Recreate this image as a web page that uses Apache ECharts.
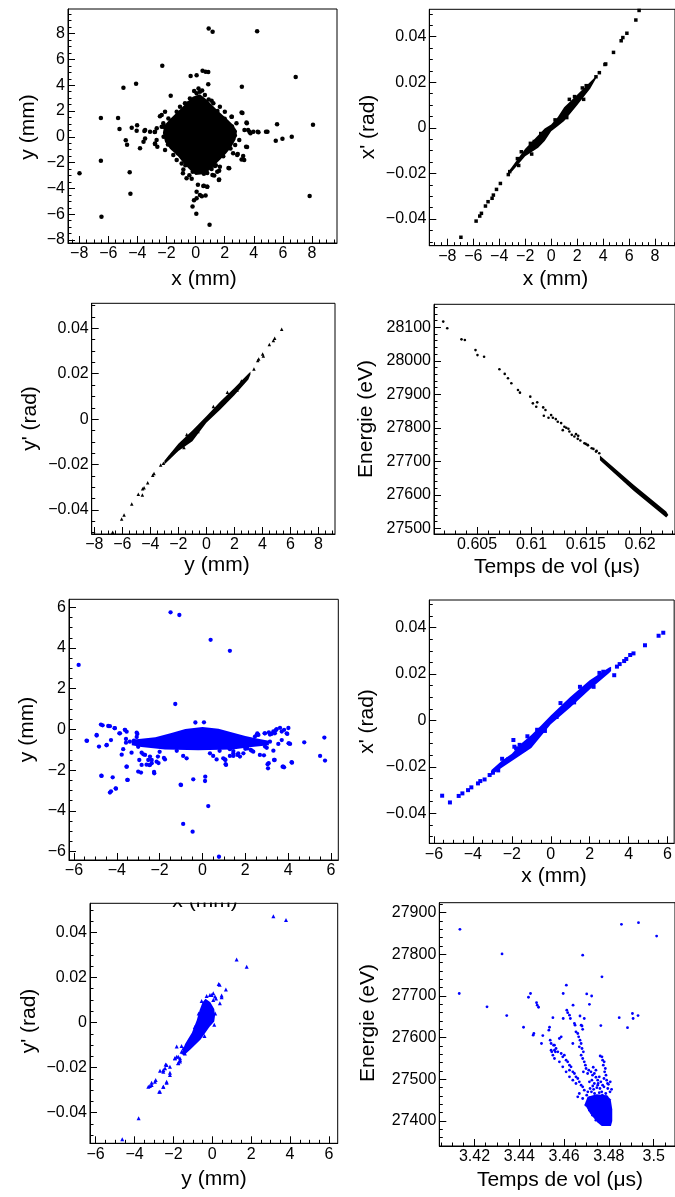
<!DOCTYPE html>
<html><head><meta charset="utf-8">
<script src="https://cdn.jsdelivr.net/npm/echarts@6.0.0/dist/echarts.min.js"></script>
<style>html,body{margin:0;padding:0;background:#fff}#c{width:675px;height:1197px}</style>
</head><body><div id="c"></div>
<script>
// ---------------- tick labels ----------------
const mmTicks8 = [-8,-6,-4,-2,0,2,4,6,8];
const mmTicks6 = [-6,-4,-2,0,2,4,6];
const radTicks = [-0.04,-0.02,0,0.02,0.04];
const tofTicksA = [0.605,0.61,0.615,0.62];
const eTicksA = [27500,27600,27700,27800,27900,28000,28100];
const tofTicksB = [3.42,3.44,3.46,3.48,3.5];
const eTicksB = [27400,27500,27600,27700,27800,27900];

// ---------------- panel 1 : x vs y (black) ----------------
const p1Pts = [[0.9,8.4],[1.17,8.15],[4.23,8.18],[-2.29,5.52],[0.48,5.13],[0.69,5.05],[0.87,5.03],[-0.34,4.72],[0.07,4.77],[-4.09,4.12],[6.88,4.64],[-4.96,3.81],[0.87,4.07],[3.18,3.89],[-1.71,3.19],[-6.51,1.46],[-5.33,1.46],[-5.23,0.61],[-4.39,0.71],[-4.02,0.89],[-4.05,0.48],[-4.8,-0.27],[-4.71,-0.61],[-3.82,-0.89],[-3.52,0.45],[-6.51,-1.85],[-7.98,-2.83],[-4.53,-2.75],[-4.48,-4.41],[-6.47,-6.19],[-0.21,-5.41],[-0.11,-4.92],[0.05,-5.96],[0.96,-6.82],[0.16,-3.71],[0.57,-3.79],[0.07,-4.25],[0.43,-4.61],[0.8,-3.86],[0.69,-4.54],[7.84,-4.59],[8.07,0.94],[5.6,0.97],[4.94,0.4],[4.32,0.35],[5.51,-0.3],[5.97,-0.14],[6.61,0.01],[3.61,0.53],[3.5,1.12],[3.77,0.27],[3.22,1.85],[2.49,1.56],[2.26,-2.42],[1.62,-2.62],[1.39,-2.21],[1.6,-3.35],[1.28,-3.0],[3.27,-1.49],[3.34,-1.8],[3.54,-0.79],[2.9,-1.33],[-2.45,1.59],[-2.22,0.79],[-2.67,0.66],[-2.79,-0.56],[-2.81,0.38],[-2.63,-0.76],[-2.1,-1.02],[-0.87,-2.83],[-0.62,-3.22],
[-3.47,0.53],[-3.13,0.4],[-2.79,0.4],[-3.47,-0.12],[-3.58,-0.38],[-2.79,-0.51],[-2.68,-0.25],[-2.22,1.05],[-2.33,0.79],[-1.53,-1.41],[-1.3,-1.8],[-0.96,-2.07],[-0.84,-2.54],[-0.43,-2.98],[-0.27,-3.24],[0.18,-2.4],[0.57,-2.86],[0.8,-2.8],[1.33,-2.26],[1.67,-2.32],[1.49,-2.71],[1.62,-3.3],[1.16,-2.96],[2.31,-2.44],[2.58,-1.28],[2.86,-1.41],[3.16,-1.75],[2.08,-0.77],[2.31,-0.38],[2.72,-0.64],[3.0,-0.25],[3.47,-0.77],[3.52,1.05],[3.36,0.53],[3.7,0.4],[3.97,0.4],[4.27,0.4],[4.84,0.4],[3.16,1.89],[2.47,1.55],[2.81,1.05],[1.67,2.34],[2.01,1.95],[1.1,2.8],[1.22,2.6],[0.64,3.24],[0.3,3.5],[0.07,3.37],[-0.39,2.98],[-0.73,2.6],[-1.07,2.34],[-1.3,1.95],[-1.87,1.43],[-2.33,1.69],[-2.1,1.95],[0.53,-3.81],[0.8,-3.87],[0.3,-4.51],[0.07,-4.77],[0.2,3.75],[0.45,3.6],[-0.1,3.55],
[-2.0,0.2],[-1.9,-0.6],[-1.6,1.2],[-1.0,1.9],[-0.5,2.6],[1.5,2.0],[2.0,1.4],[2.5,0.8],[2.7,0.1],[2.4,-0.9],[1.9,-1.5],[1.1,-2.5],[-0.2,-2.7],[-0.7,-2.2],[-1.2,-1.3],[-2.2,0.0],[0.9,2.9],[-0.6,-1.8]];
// outline of the dense (saturated) core of panel 1
const p1Core = [[0.3,3.3],[0.75,2.9],[1.2,2.4],[1.7,1.85],[2.2,1.35],[2.55,0.95],[2.85,0.45],[2.75,-0.2],[2.45,-0.8],[2.1,-1.3],[1.7,-1.75],[1.35,-2.15],[0.95,-2.6],[0.5,-2.9],[0.0,-2.95],[-0.45,-2.5],[-0.85,-2.0],[-1.25,-1.45],[-1.75,-0.95],[-2.1,-0.4],[-2.25,0.3],[-2.15,0.9],[-1.7,1.45],[-1.15,2.05],[-0.65,2.6],[-0.2,3.1]];

// ---------------- panel 2 : x vs x' (black) ----------------
const p2Pts = [[6.77,0.0515],[6.52,0.0473],[5.83,0.0415],[5.52,0.0396],[5.39,0.0382],[4.8,0.0331],[4.14,0.0278],[4.2,0.028],[3.71,0.0242],[3.45,0.0224],[-3.19,-0.0192],[-3.3,-0.0205],[-3.91,-0.0244],[-4.21,-0.027],[-4.45,-0.0295],[-4.55,-0.0309],[-4.86,-0.0324],[-5.06,-0.0343],[-5.37,-0.0375],[-5.5,-0.0387],[-5.78,-0.0409],[-6.95,-0.048],
[-2.6,-0.0135],[-2.3,-0.0105],[-1.6,-0.0068],[-1.3,-0.006],[-0.8,-0.0025],[0.3,0.0035],[1.4,0.0125],[1.8,0.0137],[2.4,0.0175],[2.7,0.0185],[1.2,0.0045],[2.5,0.0125],[-1.5,-0.0115],[-2.5,-0.0165]];
const p2Core = [[-3.2,-0.0185],[-3,-0.017],[-2,-0.0092],[-1,-0.0033],[-0.5,-0.0003],[0,0.0015],[0.5,0.0047],[1,0.009],[2,0.0145],[3,0.0201],[3.45,0.0226],[3.45,0.0216],[3,0.0171],[2,0.0099],[1,0.003],[0.5,0.0007],[0,-0.0015],[-0.5,-0.0058],[-1,-0.0087],[-2,-0.0125],[-3,-0.019],[-3.2,-0.0198]];

// ---------------- panel 3 : y vs y' (black) ----------------
const p3Pts = [[5.38,0.0396],[4.88,0.0356],[4.79,0.0346],[4.5,0.0329],[4.02,0.0287],[4.07,0.0278],[3.74,0.0265],[3.67,0.0258],[3.4,0.0221],[-3.07,-0.0194],[-3.26,-0.0202],[-3.74,-0.024],[-3.83,-0.0247],[-4.19,-0.028],[-4.45,-0.0302],[-4.55,-0.0307],[-4.57,-0.0334],[-4.86,-0.0331],[-5.33,-0.0374],[-5.88,-0.0422],[-6.05,-0.044],[-6.69,-0.0498],
[-2.5,-0.0155],[-1.6,-0.0125],[-1.4,-0.0068],[-0.6,-0.0055],[0.5,0.0055],[1.5,0.0118],[2.5,0.0168],[2.2,0.0128],[-2.2,-0.0135],[-2.7,-0.0168]];
const p3Core = [[-3,-0.0183],[-2,-0.0108],[-1,-0.005],[0,0.0013],[1,0.0078],[2,0.0137],[3,0.02],[3.15,0.0208],[3.15,0.0196],[3,0.0174],[2,0.0105],[1,0.0042],[0,-0.0016],[-1,-0.0097],[-2,-0.0141],[-3,-0.02]];

// ---------------- panel 4 : time of flight vs energy (black) ----------------
const p4Pts = [[0.60188,28117],[0.60225,28097],[0.60356,28064],[0.60387,28062],[0.60485,28032],[0.60503,28017],[0.60564,28012],[0.60705,27975],[0.60754,27961],[0.60784,27948],[0.60815,27933],[0.60876,27913],[0.60894,27905],[0.60989,27893],[0.61013,27873],[0.61053,27876],[0.61108,27861],[0.61129,27853],[0.61044,27863],[0.61114,27836],[0.61181,27838],[0.61197,27830],[0.61157,27830],[0.61224,27826],[0.61242,27818],[0.61273,27814],[0.61303,27803],[0.61288,27793],[0.61349,27789],[0.61371,27779],[0.61395,27774],[0.61426,27767],[0.6145,27762],[0.61487,27754],[0.61517,27749],[0.61554,27739],[0.61594,27729],[0.61624,27724],[0.6132,27800],[0.6134,27797],[0.6141,27781],[0.6143,27776],[0.615,27752],[0.6152,27748],[0.6157,27737],[0.616,27731]];
const p4Core = [[0.6163,27717],[0.6194,27630],[0.6224,27550],[0.6226,27540],[0.6224,27532],[0.6194,27612],[0.6163,27703]];

// ---------------- panel 5 : x vs y (blue) ----------------
const p5Pts = [[-1.49,5.75],[-1.08,5.62],[0.38,4.4],[1.28,3.86],[-5.78,3.17],[-1.27,1.25],[-0.33,0.34],[0.07,0.35],[-4.74,0.24],[-4.66,0.2],[-4.32,0.16],[-4.1,0.06],[-4.94,-0.3],[-5.39,-0.56],[-4.83,-0.84],[-4.48,-0.78],[-4.27,-0.52],[-3.88,-0.19],[-3.62,-0.02],[-3.57,-0.47],[-3.57,-0.65],[-3.77,-1.24],[-3.7,-0.97],[-4.72,-2.27],[-4.19,-2.35],[-4.04,-2.91],[-4.32,-3.1],[-4.27,-3.04],[-3.54,-1.83],[-3.51,-2.48],[-3.31,-1.14],[-3.04,-0.22],[-3.07,-0.37],[-2.95,-1.5],[-2.87,-2.12],[-2.76,-1.22],[-2.61,-1.73],[-2.48,-1.75],[-2.45,-1.33],[-2.37,-1.5],[-2.26,-2.09],[-2.08,-1.33],[-2.05,-1.65],[-1.8,-1.4],[-1.02,-2.71],[-0.9,-4.64],[-0.46,-5.02],[-0.43,-2.45],[0.13,-2.32],[0.12,-2.53],[0.27,-3.76],[0.77,-6.25],[1.08,-1.71],[0.97,-1.42],[1.07,-1.5],[1.28,-1.3],[1.44,-1.17],[1.63,-1.25],[1.75,-1.33],[1.91,-1.17],[2.09,-0.93],[2.25,-1.01],[1.28,-0.97],[1.44,-1.06],[2.37,-1.09],[2.68,-1.25],[2.45,-0.35],[2.53,-0.27],[2.56,-0.2],[2.9,-0.19],[2.87,-1.27],[3.09,-1.66],[3.06,-1.91],[3.15,-0.25],[3.38,-0.19],[3.46,0.01],[3.7,-0.1],[3.81,-0.02],[4.01,0.07],[3.96,-0.22],[4.02,-0.68],[4.09,-0.71],[3.31,-1.04],[3.37,-1.5],[3.74,-1.83],[3.81,-1.86],[4.18,-1.63],[4.75,-0.63],[5.49,-1.3],[5.72,-1.53],[5.69,-0.4],
[-2.84,-1.14],[-2.68,-1.25],[-2.53,-1.5],[-2.37,-1.66],[-2.14,-1.58],[-1.75,-1.47],[-0.9,-1.3],[-0.74,-1.42],[0.35,-1.17],[0.5,-1.3],[0.66,-1.47],[1.05,-1.47],[1.44,-1.3],[1.67,-1.17],[2.3,-1.04],[2.92,-0.84],[3.54,-0.71],[3.7,-0.52],[3.93,-0.19],[3.23,-0.22],[2.61,-0.27],[2.92,-0.19],[-3.07,-0.16],[-3.54,-0.11],[-3.39,-0.6],[-4.09,0.06],[-3.85,-0.19],[-3.62,-0.02],[-4.4,0.17],[-4.94,-0.27],[-5.41,-0.55],[-4.47,-0.76],[-3.0,-2.07],[-2.84,-1.74],[-2.45,-1.74],[-2.25,-2.15],[-3.54,-1.83],[-3.49,-2.48],[-4.71,-2.28],[-4.05,-2.89],[-1.0,-2.73],[1.1,-1.74],[3.04,-1.71],[3.34,-1.5],[3.77,-1.83],[4.16,-1.61],[2.58,-0.24],[3.1,-0.14],[3.31,-0.09],[3.42,-0.04],[3.62,0.08],[4.04,-0.68],[-3.2,-0.55],[-3.0,-0.85],[3.15,-0.6],[3.0,-0.9],[-1.2,-1.05],[0.8,-1.05],[-2.0,-1.1],[2.0,-0.95]];
const p5Core = [[-3.3,-0.5],[-2.2,-0.38],[-1.45,-0.17],[-0.8,0.02],[0.0,0.12],[0.75,0.03],[1.35,-0.14],[2.0,-0.32],[2.6,-0.46],[3.1,-0.55],[3.1,-0.78],[2.3,-0.86],[1.4,-0.98],[-0.2,-1.02],[-1.75,-0.98],[-2.85,-0.86],[-3.3,-0.78]];

// ---------------- panel 6 : x vs x' (blue) ----------------
const p6Pts = [[5.78,0.0378],[5.54,0.0365],[4.84,0.0324],[4.25,0.0289],[4.08,0.0282],[3.88,0.0265],[3.77,0.0256],[3.54,0.0243],[3.4,0.0232],[3.26,0.0195],[-5.58,-0.0324],[-5.18,-0.0353],[-4.73,-0.0325],[-4.54,-0.0314],[-4.25,-0.03],[-4.08,-0.0288],[-3.74,-0.0271],[-3.62,-0.0261],[-3.4,-0.0254],[-3.14,-0.0235],[-2.97,-0.0225],[-1.92,-0.0084],[-1.87,-0.0113],[-1.78,-0.012],
[-2.5,-0.0165],[-2.2,-0.0168],[-1.6,-0.0105],[-1.2,-0.0068],[-0.7,-0.004],[0.5,0.0075],[1.5,0.0145],[2.5,0.0205],[2.7,0.021],[1.2,0.0078],[2.2,0.0145],[-1.4,-0.0125],[-2.7,-0.0215],[0.3,0.0015],[-0.3,-0.0045]];
const p6Core = [[-3.05,-0.0213],[-2.5,-0.0172],[-2,-0.0143],[-1.5,-0.0098],[-1,-0.0062],[-0.5,-0.0022],[0,0.0022],[1,0.0101],[2,0.0173],[3,0.0228],[3.1,0.0232],[3.1,0.0213],[3,0.0205],[2,0.0134],[1,0.0056],[0,-0.0016],[-1,-0.0118],[-2,-0.0174],[-2.5,-0.0203],[-3.05,-0.0235]];

// ---------------- panel 7 : y vs y' (blue) ----------------
const p7Pts = [[3.14,0.0472],[3.79,0.0455],[1.25,0.028],[1.77,0.0247],[0.33,0.0171],[0.38,0.0168],[0.7,0.0147],[0.48,0.012],[0.14,0.0115],[0.19,0.0107],[0.05,0.013],[-0.12,0.0122],[-0.29,0.0118],[-1.66,-0.0159],[-1.83,-0.0152],[-1.92,-0.0159],[-1.75,-0.018],[-1.66,-0.0173],[-2.18,-0.0223],[-2.35,-0.0189],[-2.4,-0.0186],[-2.69,-0.0214],[-2.52,-0.0211],[-2.91,-0.0255],[-3.12,-0.0267],[-3.21,-0.0282],[-3.29,-0.0285],[-2.35,-0.0267],[-2.52,-0.0285],[-2.73,-0.0307],[-3.79,-0.0425],[-4.63,-0.0518],[-1.83,-0.0107],[-1.58,-0.0104],
[-0.03,0.0122],[0.48,0.0112],[0.05,0.01],[0.39,0.0085],[-0.21,0.0085],[-0.38,0.007],[-0.46,0.0055],[-1.32,-0.0107],[-1.49,-0.0115],[-1.58,-0.013],[-1.41,-0.0137],[-1.75,-0.0152],[-1.92,-0.0159],[-1.66,-0.0166],[-1.75,-0.0181],[-2.18,-0.0196],[-2.43,-0.0203],[-2.52,-0.0218],[-2.18,-0.0233],[-2.35,-0.0263],[-2.52,-0.0285],[-2.69,-0.0307],[-2.95,-0.0263],[-3.12,-0.0277],[-0.55,0.0095],[-0.7,0.004],[-1.2,-0.008],[-0.9,-0.002],[0.15,0.004],[0.1,-0.001],[-0.4,-0.006]];
const p7Core = [[-0.35,0.0105],[-0.1,0.009],[0.1,0.006],[0.14,0.003],[0.1,0.0005],[-0.15,-0.002],[-0.6,-0.0075],[-1.1,-0.0118],[-1.45,-0.0145],[-1.6,-0.014],[-1.4,-0.0095],[-1.05,-0.0045],[-0.8,0.001],[-0.65,0.0055],[-0.5,0.009]];

// ---------------- panel 8 : time of flight vs energy (blue) ----------------
const p8Pts = [[3.4135,27860],[3.4132,27706],[3.4323,27801],[3.4256,27674],[3.4344,27653],[3.4419,27625],[3.4441,27697],[3.445,27706],[3.4462,27606],[3.4465,27610],[3.4477,27684],[3.448,27678],[3.4486,27673],[3.4499,27586],[3.4505,27605],[3.4532,27618],[3.4535,27625],[3.455,27648],[3.4542,27570],[3.4545,27566],[3.4557,27582],[3.4579,27598],[3.4587,27602],[3.4596,27706],[3.461,27726],[3.4612,27666],[3.4616,27660],[3.4596,27646],[3.4628,27646],[3.464,27678],[3.4646,27634],[3.4649,27630],[3.4683,27798],[3.4671,27652],[3.469,27646],[3.468,27628],[3.4701,27705],[3.4723,27700],[3.4713,27680],[3.4769,27746],[3.4764,27629],[3.4856,27872],[3.4932,27876],[3.5013,27844],[3.4846,27648],[3.4883,27624],[3.4905,27658],[3.4908,27646],[3.493,27653],[3.4538,27594],[3.4542,27586],[3.4553,27582],[3.4557,27570],[3.4561,27566],[3.4639,27586],[3.4624,27654],
[3.4564,27574],[3.4572,27566],[3.4587,27562],[3.4594,27554],[3.4601,27558],[3.4609,27546],[3.4616,27542],[3.4624,27534],[3.4631,27530],[3.4624,27522],[3.4639,27518],[3.4646,27514],[3.4653,27506],[3.4661,27502],[3.4668,27494],[3.4653,27490],[3.4676,27486],[3.4683,27482],[3.469,27474],
[3.4665,27602],[3.4671,27594],[3.4676,27586],[3.4668,27578],[3.468,27574],[3.4686,27566],[3.4676,27558],[3.4683,27550],[3.469,27542],[3.4695,27534],[3.4698,27526],[3.4686,27518],[3.4705,27514],
[3.4761,27556],[3.4769,27554],[3.4772,27546],[3.4779,27542],[3.4775,27534],[3.4784,27526],[3.4781,27518],[3.4787,27510],[3.4778,27502],[3.479,27498],[3.4794,27490],[3.4772,27486],
[3.471,27522],[3.472,27518],[3.4727,27510],[3.4735,27514],[3.4742,27505],[3.475,27498],[3.4757,27506],[3.4724,27498],[3.4713,27494],[3.4735,27490],[3.475,27486],[3.4764,27494],[3.4742,27522],[3.473,27529],
[3.455,27558],[3.4557,27550],[3.4579,27542],[3.4594,27530],[3.4609,27518],[3.4624,27506],[3.4639,27498],
[3.4653,27614],[3.4661,27610],[3.4683,27620],[3.4676,27630],
[3.4668,27466],[3.4661,27458],[3.4683,27454],[3.4698,27438],[3.4713,27426],[3.4727,27414],[3.4742,27402],
[3.4716,27478],[3.4728,27484],[3.4746,27480],[3.476,27478],[3.4778,27482],[3.4795,27478],[3.4805,27470],[3.4722,27470],[3.4736,27466],[3.4752,27490],[3.4768,27470],[3.4786,27466],[3.4798,27488],[3.4706,27470],[3.4732,27476],[3.4757,27468],[3.4771,27462],[3.4791,27458],[3.4812,27476],[3.4806,27494],[3.4716,27456],[3.4701,27462]];
const p8Core = [[3.4705,27458],[3.4745,27464],[3.479,27462],[3.4808,27452],[3.4815,27428],[3.4815,27400],[3.4809,27388],[3.4768,27388],[3.4748,27397],[3.4716,27418],[3.4692,27440]];

// ---------------- layout / style ----------------
const FONT = "'Liberation Sans', Arial, Helvetica, sans-serif";
const BLUE = '#0000ff', BLACK = '#000000';
const panels = [
  {box:[68,9,269,234], xr:[-8.77,9.72], yr:[-8.23,9.91], xt:mmTicks8, yt:mmTicks8, xm:0.5, ym:0.5, pts:p1Pts, core:p1Core, color:BLACK, symbol:'circle', size:4.5, xt1:'x (mm)', yt1:'y (mm)', xp:[204,279], yp:[28,127]},
  {box:[429.3,9.3,246.7,236.4], xr:[-9.384,9.535], yr:[-0.0517,0.052], xt:mmTicks8, yt:radTicks, xm:0.5, ym:0.005, pts:p2Pts, core:p2Core, color:BLACK, symbol:'rect', size:3.5, xt1:'x (mm)', yt1:"x' (rad)", xp:[555.5,279], yp:[368.5,127]},
  {box:[91.7,303.3,243.3,230.7], xr:[-8.19,9.19], yr:[-0.0506,0.051], xt:mmTicks8, yt:radTicks, xm:0.5, ym:0.005, pts:p3Pts, core:p3Core, color:BLACK, symbol:'triangle', size:3.5, xt1:'y (mm)', yt1:"y' (rad)", xp:[217,565], yp:[30,418.5]},
  {box:[434,304.3,242,229.7], xr:[0.60103,0.62321], yr:[27483,28168.7], xt:tofTicksA, yt:eTicksA, xm:0.001, ym:20, pts:p4Pts, core:p4Core, color:BLACK, symbol:'circle', size:2.6, xt1:'Temps de vol (\u03bcs)', yt1:'Energie (eV)', xp:[557,567], yp:[366,419]},
  {box:[69,599.3,269.3,260.7], xr:[-6.23,6.34], yr:[-6.41,6.39], xt:mmTicks6, yt:mmTicks6, xm:0.5, ym:0.5, pts:p5Pts, core:p5Core, color:BLUE, symbol:'circle', size:4.3, xt1:'x (mm)', yt1:'y (mm)', xp:[205,901], yp:[27,729.5]},
  {box:[429.3,600,246.7,243.3], xr:[-6.24,6.34], yr:[-0.0529,0.0519], xt:mmTicks6, yt:radTicks, xm:0.5, ym:0.005, pts:p6Pts, core:p6Core, color:BLUE, symbol:'rect', size:4, xt1:'x (mm)', yt1:"x' (rad)", xp:[554,876], yp:[367,721.5]},
  {box:[90,903.3,247.7,240], xr:[-6.29,6.45], yr:[-0.0536,0.0529], xt:mmTicks6, yt:radTicks, xm:0.5, ym:0.005, pts:p7Pts, core:p7Core, color:BLUE, symbol:'triangle', size:4, xt1:'y (mm)', yt1:"y' (rad)", xp:[214,1179], yp:[29,1021]},
  {box:[439.3,902.7,236.7,243.3], xr:[3.4043,3.5095], yr:[27340,27924], xt:tofTicksB, yt:eTicksB, xm:0.005, ym:20, pts:p8Pts, core:p8Core, color:BLUE, symbol:'circle', size:2.8, xt1:'Temps de vol (\u03bcs)', yt1:'Energie (eV)', xp:[560,1180], yp:[368,1023]}
];

function fmt(v){ return String(+v.toPrecision(10)).replace('-', '\u2212'); }
function minorVals(r, step){
  const out=[]; const k0=Math.ceil(r[0]/step-1e-9), k1=Math.floor(r[1]/step+1e-9);
  for(let k=k0;k<=k1;k++) out.push(+(k*step).toPrecision(10));
  return out;
}
function mainAxis(gi, r, ticks, pos){
  return {type:'value', gridIndex:gi, position:pos, min:r[0], max:r[1], offset:0,
    axisLine:{show:true, onZero:false, lineStyle:{color:'#000', width:1}},
    axisTick:{show:true, inside:true, length:7, customValues:ticks, lineStyle:{color:'#000', width:1}},
    axisLabel:{show:true, customValues:ticks, formatter:fmt, margin:3, fontSize:16, fontFamily:FONT, color:'#000'},
    splitLine:{show:false}, minorTick:{show:false}};
}
function minorAxis(gi, r, step, pos){
  return {type:'value', gridIndex:gi, position:pos, min:r[0], max:r[1], offset:0,
    axisLine:{show:false, onZero:false},
    axisTick:{show:true, inside:true, length:3.5, customValues:minorVals(r, step), lineStyle:{color:'#000', width:1}},
    axisLabel:{show:false}, splitLine:{show:false}};
}

const grids=[], xAxes=[], yAxes=[], series=[], graphics=[];
panels.forEach((p,i)=>{
  grids.push({left:p.box[0], top:p.box[1], width:p.box[2], height:p.box[3], show:true, borderColor:'#000', borderWidth:1, backgroundColor:'rgba(0,0,0,0)'});
  const xi=xAxes.length, yi=yAxes.length;
  xAxes.push(mainAxis(i,p.xr,p.xt,'bottom'), minorAxis(i,p.xr,p.xm,'bottom'));
  yAxes.push(mainAxis(i,p.yr,p.yt,'left'), minorAxis(i,p.yr,p.ym,'left'));
  const core=p.core, col=p.color;
  series.push({type:'custom', xAxisIndex:xi, yAxisIndex:yi, silent:true, clip:true, data:[core[0]],
    renderItem:(params, api)=>({type:'polygon', shape:{points:core.map(v=>api.coord(v))}, style:{fill:col}})});
  series.push({type:'scatter', xAxisIndex:xi, yAxisIndex:yi, silent:true, data:p.pts, symbol:p.symbol, symbolSize:p.size, itemStyle:{color:col, opacity:1}});
  graphics.push({type:'text', x:p.xp[0], y:p.xp[1], z:100, style:{text:p.xt1, font:'21px '+FONT, fill:'#000', align:'center', verticalAlign:'middle'}});
  graphics.push({type:'text', x:p.yp[0], y:p.yp[1], z:100, rotation:Math.PI/2, style:{text:p.yt1, font:'21px '+FONT, fill:'#000', align:'center', verticalAlign:'middle'}});
});
// the lower part of panel 5's x title is hidden by the panel below it
graphics.push({type:'rect', z:101, shape:{x:140, y:889, width:130, height:13.5}, style:{fill:'#fff'}});

const chart = echarts.init(document.getElementById('c'), null, {renderer:'canvas'});
chart.setOption({animation:false, backgroundColor:'#fff', grid:grids, xAxis:xAxes, yAxis:yAxes, series:series, graphic:graphics});
</script></body></html>
